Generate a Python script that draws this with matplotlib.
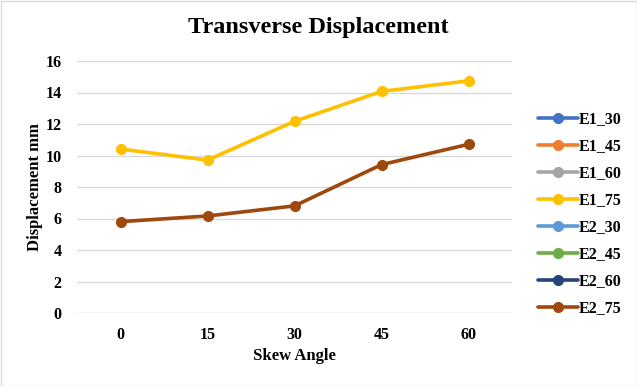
import matplotlib
matplotlib.use("Agg")
import matplotlib.pyplot as plt
import numpy as np

categories = ["0", "15", "30", "45", "60"]
series_names = ["E1_30", "E1_45", "E1_60", "E1_75", "E2_30", "E2_45", "E2_60", "E2_75"]
colors = ["#4472C4", "#ED7D31", "#A5A5A5", "#FFC000", "#5B9BD5", "#70AD47", "#264478", "#9E480E"]
nan = float("nan")
E1_30 = [nan, nan, nan, nan, nan]
E1_45 = [nan, nan, nan, nan, nan]
E1_60 = [nan, nan, nan, nan, nan]
E1_75 = [10.41, 9.71, 12.17, 14.07, 14.74]
E2_30 = [nan, nan, nan, nan, nan]
E2_45 = [nan, nan, nan, nan, nan]
E2_60 = [nan, nan, nan, nan, nan]
E2_75 = [5.80, 6.16, 6.80, 9.42, 10.71]
values = [E1_30, E1_45, E1_60, E1_75, E2_30, E2_45, E2_60, E2_75]

plt.rcParams['font.family'] = ['Liberation Serif', 'DejaVu Serif']

W, H = 637, 386
fig = plt.figure(figsize=(W / 100, H / 100), dpi=100)
ax = fig.add_axes([77 / W, 1 - 313 / H, (512 - 77) / W, (313 - 61) / H])

x = np.arange(len(categories))
for name, vals, c in zip(series_names, values, colors):
    ax.plot(x, vals, color=c, lw=2.6, marker="o", markersize=7, label=name,
            solid_capstyle="round")

ax.set_xlim(-0.5, len(categories) - 0.5)
ax.set_ylim(0, 16)
ax.set_yticks(range(0, 17, 2))
ax.set_xticks(x)
ax.set_xticklabels(categories)
ax.grid(axis="y", color="#D9D9D9", lw=1)
ax.set_axisbelow(True)
for s in ax.spines.values():
    s.set_visible(False)
ax.tick_params(axis="y", length=0, labelsize=11.5, pad=11)
ax.tick_params(axis="x", length=0, labelsize=11.5, pad=10)
for lab in ax.get_xticklabels() + ax.get_yticklabels():
    lab.set_fontweight("bold")

ax.set_xlabel("Skew Angle", fontsize=12, fontweight="bold", labelpad=4)
ax.set_ylabel("Displacement mm", fontsize=12, fontweight="bold", labelpad=2)
fig.text(318 / W, 1 - 28 / H, "Transverse Displacement", ha="center", va="center",
         fontsize=17.5, fontweight="bold")

leg = fig.legend(loc="center left", bbox_to_anchor=(524 / W, 1 - 214 / H),
                 frameon=False, prop={"weight": "bold", "size": 11.5},
                 handlelength=2.5, labelspacing=0.69, handletextpad=0.0)

fig.patches.append(plt.Rectangle((0.5 / W, 0.5 / H), 1 - 1 / W, 1 - 1 / H,
                                 transform=fig.transFigure, fill=False,
                                 edgecolor="#D9D9D9", lw=1))
fig.savefig("out.png", dpi=100)
